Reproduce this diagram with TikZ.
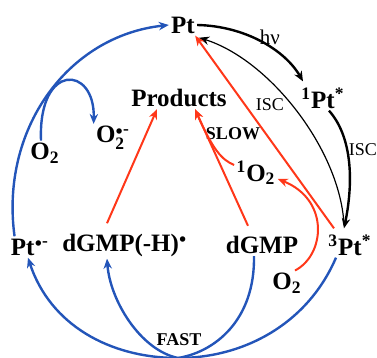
\documentclass[tikz,border=0pt]{standalone}
\usepackage{amsmath,amssymb}
\usepackage{fontspec}
\setmainfont{Liberation Serif}
\usetikzlibrary{arrows.meta}
\definecolor{etblue}{RGB}{35,85,185}
\definecolor{etred}{RGB}{255,55,25}
\newcommand{\raddot}{{\scriptscriptstyle\bullet}}

\begin{document}
\begin{tikzpicture}[x=0.5pt,y=-0.5pt,>={Stealth[length=5pt,width=4.2pt]},
  species/.style={font=\fontsize{12.5}{15}\selectfont\bfseries,inner sep=1pt},
  smalltag/.style={font=\fontsize{9}{11}\selectfont,inner sep=1pt},
  ratetag/.style={font=\fontsize{9}{11}\selectfont\bfseries,inner sep=1pt},
  bluepath/.style={etblue,line width=1.2pt},
  redpath/.style={etred,line width=1pt},
  blackthick/.style={black,line width=1.2pt},
  blackthin/.style={black,line width=0.6pt}]
  \useasboundingbox (0,0) rectangle (377,358);

  % species
  \node[species] (Pt) at (183,25) {Pt};
  \node[species] (PtS) at (323,98) {\textsuperscript{1}Pt\textsuperscript{*}};
  \node[species] (Prod) at (179,98) {Products};
  \node[species] (Osup) at (113,138) {O$_{\text{2}}^{\raddot\text{-}}$};
  \node[species] (Oa) at (45,153) {O\textsubscript{2}};
  \node[species] (Osing) at (256,173) {\textsuperscript{1}O\textsubscript{2}};
  \node[species] (Ptrad) at (30,247) {Pt$^{\raddot\text{-}}$};
  \node[species] (dGH) at (125,245) {dGMP(-H)$^{\raddot}$};
  \node[species] (dG) at (262,245) {dGMP};
  \node[species] (PtT) at (350,245) {\textsuperscript{3}Pt\textsuperscript{*}};
  \node[species] (Ob) at (287,283) {O\textsubscript{2}};

  \node[smalltag,font=\fontsize{10.5}{12}\selectfont] (hnu) at (270,37) {hν};
  \node[smalltag] (iscA) at (270,105) {ISC};
  \node[smalltag] (iscB) at (363,150) {ISC};
  \node[ratetag] (slow) at (233,134) {SLOW};
  \node[ratetag] (fast) at (179,340) {FAST};
  \coordinate (fastpt) at (178,358);

  % excitation and intersystem crossing
  \draw[blackthick,->] (Pt.east) .. controls (245,26) and (285,50)
    .. ([xshift=-10pt,yshift=2pt]PtS.north);
  \draw[blackthin,->] ([xshift=-3pt,yshift=4pt]PtT.north)
    .. controls (340,150) and (270,60) .. ([xshift=1pt,yshift=-1pt]Pt.south east);
  \draw[blackthick,->] ([xshift=3pt]PtS.south) .. controls (355,140) and (352,190)
    .. ([xshift=-3pt,yshift=2pt]PtT.north);

  % slow route
  \draw[redpath,->] ([xshift=-8pt,yshift=2pt]PtT.north) -- ([xshift=-1pt]Pt.south east);
  \draw[redpath,->] ([xshift=4pt]Ob.north) .. controls (325,255) and (330,200)
    .. ([yshift=-3pt]Osing.east);
  \draw[redpath,->] ([yshift=4pt]Osing.west) .. controls (222,160) and (213,150)
    .. ([xshift=8pt]Prod.south);
  \draw[redpath,->] ([xshift=-7pt,yshift=4pt]dG.north) -- ([xshift=8pt]Prod.south);
  \draw[redpath,->] ([xshift=-9pt,yshift=4pt]dGH.north) -- ([xshift=-11pt]Prod.south);

  % fast route
  \draw[bluepath] ([xshift=-7pt]PtT.south) .. controls (308,323) and (245,358) .. (fastpt);
  \draw[bluepath,->] (fastpt) .. controls (110,358) and (50,325) .. ([xshift=-1pt]Ptrad.south);
  \draw[bluepath] ([xshift=-4pt]dG.south) .. controls (255,320) and (215,352) .. (fastpt);
  \draw[bluepath,->] (fastpt) .. controls (140,350) and (110,300) .. ([xshift=-9pt]dGH.south);
  \draw[bluepath,->] ([xshift=3pt]Ptrad.north west) .. controls (0,130) and (67,36) .. (Pt.west);
  \draw[bluepath,->] ([xshift=-2pt]Oa.north) .. controls (38,62) and (95,65) .. (Osup.north west);
\end{tikzpicture}
\end{document}
